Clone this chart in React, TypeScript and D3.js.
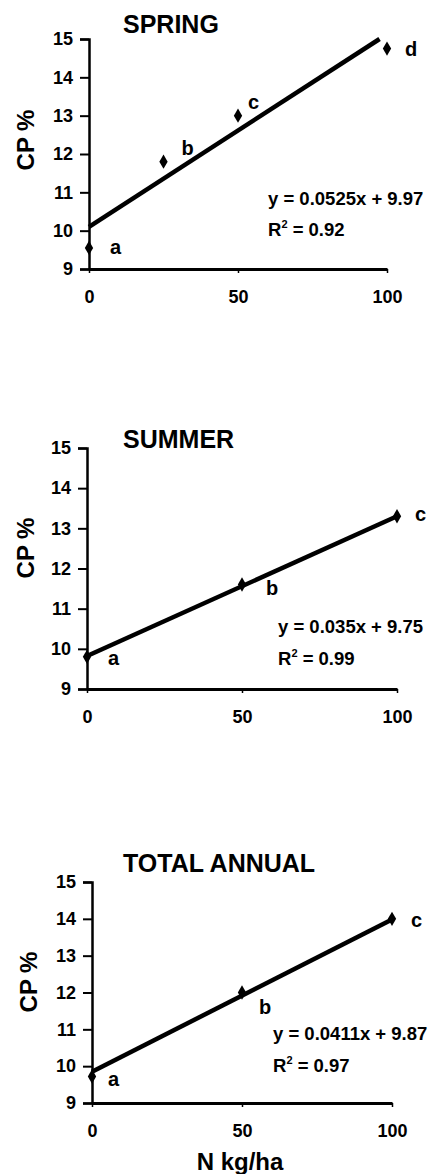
import React, { useEffect, useRef } from 'react';
import * as d3 from 'd3';

// Data
const springN = [0, 25, 50, 100];
const springCP = [9.55, 11.8, 13.0, 14.75];
const springLetters = ['a', 'b', 'c', 'd'];
const springTrendN = [0, 97.5];
const springTrendCP = [10.1, 15.0];

const summerN = [0, 50, 100];
const summerCP = [9.8, 11.6, 13.3];
const summerLetters = ['a', 'b', 'c'];
const summerTrendN = [0, 100];
const summerTrendCP = [9.82, 13.3];

const annualN = [0, 50, 100];
const annualCP = [9.72, 12.0, 14.0];
const annualLetters = ['a', 'b', 'c'];
const annualTrendN = [0, 100];
const annualTrendCP = [9.85, 13.98];

const yTicks = [9, 10, 11, 12, 13, 14, 15];
const xTicks = [0, 50, 100];

const FONT = '"Liberation Sans", Arial, sans-serif';

const panels = [
    {
        title: 'SPRING', n: springN, cp: springCP, letters: springLetters,
        trendN: springTrendN, trendCP: springTrendCP,
        eq: 'y = 0.0525x + 9.97', r2: '0.92',
        x0: 89, x1: 387, yTop: 39, yBot: 269,
        titleY: 33, eqX: 268, eqY: 205, r2Y: 236, cpX: 25, cpY: 140,
        offsets: [[21, 6], [18, -7], [10, -7], [18, 7]],
    },
    {
        title: 'SUMMER', n: summerN, cp: summerCP, letters: summerLetters,
        trendN: summerTrendN, trendCP: summerTrendCP,
        eq: 'y = 0.035x + 9.75', r2: '0.99',
        x0: 87, x1: 397, yTop: 448, yBot: 689,
        titleY: 448, eqX: 278, eqY: 633, r2Y: 665, cpX: 25, cpY: 548,
        offsets: [[21, 8], [24, 10], [18, 5]],
    },
    {
        title: 'TOTAL ANNUAL', n: annualN, cp: annualCP, letters: annualLetters,
        trendN: annualTrendN, trendCP: annualTrendCP,
        eq: 'y = 0.0411x + 9.87', r2: '0.97',
        x0: 92, x1: 392, yTop: 882, yBot: 1103,
        titleY: 872, eqX: 273, eqY: 1040, r2Y: 1072, cpX: 28, cpY: 982,
        offsets: [[16, 10], [17, 21], [19, 8]],
    },
];

const App = () => {
    const svgRef = useRef(null);

    useEffect(() => {
        const svg = d3.select(svgRef.current);
        svg.selectAll('*').remove();
        svg.append('rect').attr('width', 440).attr('height', 1174).attr('fill', '#fff');

        panels.forEach((p, pi) => {
            const g = svg.append('g').attr('font-family', FONT).attr('font-weight', 'bold').attr('fill', '#000');
            const x = d3.scaleLinear().domain([0, 100]).range([p.x0, p.x1]);
            const y = d3.scaleLinear().domain([9, 15]).range([p.yBot, p.yTop]);

            // Title
            g.append('text').attr('x', 123).attr('y', p.titleY).attr('font-size', 25).text(p.title);

            // Y axis
            const yAxis = g.append('g').attr('transform', `translate(${p.x0},0)`)
                .call(d3.axisLeft(y).tickValues(yTicks).tickSize(9).tickPadding(7).tickFormat(d3.format('d')));
            yAxis.select('.domain').attr('stroke', '#000').attr('stroke-width', 2.5);
            yAxis.selectAll('.tick line').attr('stroke', '#000').attr('stroke-width', 2);
            yAxis.selectAll('.tick text').attr('font-size', 18).attr('font-family', FONT).attr('font-weight', 'bold').attr('fill', '#000');

            // X axis
            const xAxis = g.append('g').attr('transform', `translate(0,${p.yBot})`)
                .call(d3.axisBottom(x).tickValues(xTicks).tickSizeInner(4).tickSizeOuter(0).tickPadding(17));
            xAxis.select('.domain').attr('stroke', '#000').attr('stroke-width', 3);
            xAxis.selectAll('.tick line').attr('stroke', '#000').attr('stroke-width', 1.5);
            xAxis.selectAll('.tick text').attr('font-size', 18).attr('font-family', FONT).attr('font-weight', 'bold').attr('fill', '#000');

            // Y label
            g.append('text')
                .attr('transform', `translate(${p.cpX},${p.cpY}) rotate(-90)`)
                .attr('text-anchor', 'middle').attr('dominant-baseline', 'central')
                .attr('font-size', 24).text('CP %');

            // Trend line
            const trend = p.trendN.map((v, i) => [v, p.trendCP[i]]);
            g.append('path')
                .datum(trend)
                .attr('d', d3.line().x(d => x(d[0])).y(d => y(d[1])))
                .attr('stroke', '#000').attr('stroke-width', 4.5).attr('fill', 'none');

            // Points
            const pts = p.n.map((v, i) => ({ n: v, cp: p.cp[i], letter: p.letters[i], off: p.offsets[i] }));
            g.selectAll('path.pt').data(pts).enter().append('path')
                .attr('class', 'pt')
                .attr('transform', d => `translate(${x(d.n)},${y(d.cp)})`)
                .attr('d', d3.symbol(d3.symbolDiamond, 60)())
                .attr('fill', '#000');

            g.selectAll('text.lbl').data(pts).enter().append('text')
                .attr('class', 'lbl')
                .attr('x', d => x(d.n) + d.off[0])
                .attr('y', d => y(d.cp) + d.off[1])
                .attr('font-size', 20).text(d => d.letter);

            // Equation
            g.append('text').attr('x', p.eqX).attr('y', p.eqY).attr('font-size', 18.5).text(p.eq);
            const r2 = g.append('text').attr('x', p.eqX).attr('y', p.r2Y).attr('font-size', 18.5);
            r2.append('tspan').text('R');
            r2.append('tspan').attr('font-size', 11).attr('dy', -8).text('2');
            r2.append('tspan').attr('dy', 8).text(' = ' + p.r2);

            // X label on the last panel
            if (pi === panels.length - 1) {
                g.append('text').attr('x', 240).attr('y', 1170).attr('text-anchor', 'middle')
                    .attr('font-size', 24).text('N kg/ha');
            }
        });
    }, []);

    return (
        <div style={{ position: 'absolute', left: 0, top: 0 }}>
            <svg ref={svgRef} width={440} height={1174} style={{ display: 'block' }}></svg>
        </div>
    );
};

export default App;
